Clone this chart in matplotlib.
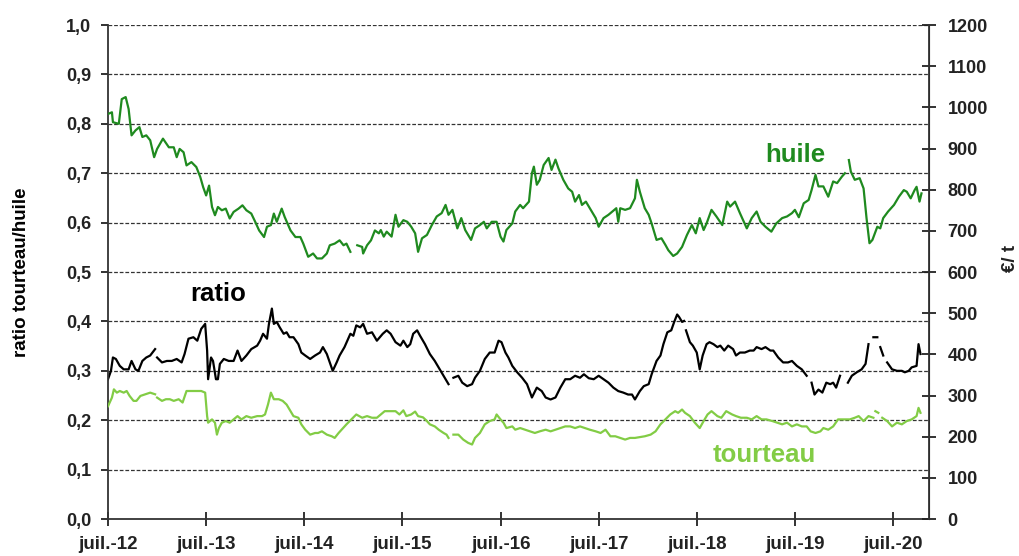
import numpy as np
import matplotlib
matplotlib.use('Agg')
import matplotlib.pyplot as plt

# decimal years; None = gap in the series
huile_t = [2012.50, 2012.54, 2012.55, 2012.61, 2012.64, 2012.68, 2012.71, 2012.74, 2012.78, 2012.82,
           2012.85, 2012.89, 2012.93, 2012.97, 2013.00, 2013.06, 2013.12, 2013.17, 2013.20, 2013.23,
           2013.27, 2013.30, 2013.35, 2013.40, 2013.44, 2013.47, 2013.50, 2013.53, 2013.56, 2013.59,
           2013.62, 2013.66, 2013.70, 2013.74, 2013.78, 2013.83, 2013.87, 2013.91, 2013.96, 2014.00,
           2014.04, 2014.09, 2014.12, 2014.16, 2014.19, 2014.22, 2014.27, 2014.30, 2014.36, 2014.41,
           2014.46, 2014.49, 2014.54, 2014.59, 2014.63, 2014.68, 2014.73, 2014.76, 2014.81, 2014.86,
           2014.90, 2014.93, 2014.97, 2015.00, 2015.04, 2015.09, 2015.10, 2015.14, 2015.18, 2015.22,
           2015.26, 2015.28, 2015.31, 2015.34, 2015.39, 2015.43, 2015.46, 2015.51, 2015.55, 2015.59,
           2015.63, 2015.66, 2015.70, 2015.75, 2015.80, 2015.85, 2015.90, 2015.94, 2015.97, 2016.01,
           2016.06, 2016.10, 2016.14, 2016.20, 2016.24, 2016.29, 2016.33, 2016.36, 2016.41, 2016.46,
           2016.50, 2016.53, 2016.56, 2016.62, 2016.65, 2016.70, 2016.73, 2016.79, 2016.82, 2016.84,
           2016.87, 2016.90, 2016.94, 2016.99, 2017.02, 2017.06, 2017.09, 2017.14, 2017.19, 2017.23,
           2017.26, 2017.30, 2017.33, 2017.37, 2017.41, 2017.47, 2017.50, 2017.55, 2017.60, 2017.64,
           2017.68, 2017.70, 2017.72, 2017.77, 2017.82, 2017.87, 2017.89, 2017.92, 2017.97, 2018.01,
           2018.04, 2018.09, 2018.14, 2018.18, 2018.21, 2018.26, 2018.30, 2018.35, 2018.40, 2018.45,
           2018.49, 2018.53, 2018.57, 2018.60, 2018.65, 2018.70, 2018.76, 2018.81, 2018.84, 2018.89,
           2018.94, 2019.01, 2019.06, 2019.11, 2019.15, 2019.20, 2019.26, 2019.31, 2019.37, 2019.42,
           2019.47, 2019.50, 2019.54, 2019.59, 2019.64, 2019.67, 2019.71, 2019.74, 2019.79, 2019.84,
           2019.89, 2019.93, 2019.98, 2020.01, 2020.03, 2020.05, 2020.07, 2020.11, 2020.16, 2020.20,
           2020.23, 2020.26, 2020.29, 2020.34, 2020.37, 2020.40, 2020.45, 2020.51, 2020.56, 2020.61,
           2020.64, 2020.68, 2020.72, 2020.74, 2020.77, 2020.79]
huile_v = [984, 988, 964, 960, 1020, 1025, 996, 932, 944, 952,
           928, 932, 920, 879, 899, 924, 903, 903, 879, 899,
           891, 859, 867, 855, 831, 806, 786, 810, 758, 738,
           758, 750, 754, 730, 746, 754, 762, 750, 742, 722,
           701, 685, 710, 714, 742, 722, 754, 734, 701, 685,
           685, 669, 637, 645, 633, 633, 645, 665, 669, 677,
           665, 669, 649, None, 665, 661, 645, 665, 677, 701,
           694, 702, 686, 698, 686, 739, 710, 726, 722, 710,
           694, 649, 682, 690, 714, 735, 743, 763, 739, 751,
           706, 731, 702, 678, 706, 714, 722, 706, 722, 722,
           686, 674, 702, 718, 747, 763, 755, 771, 840, 856,
           812, 824, 860, 877, 848, 873, 852, 824, 803, 795,
           771, 787, 763, 771, 755, 731, 710, 731, 739, 747,
           755, 722, 755, 751, 755, 779, 824, 795, 755, 739,
           718, 678, 682, 666, 653, 639, 645, 661, 690, 714,
           694, 731, 702, 718, 751, 735, 714, 771, 759, 771,
           743, 706, 731, 747, 722, 710, 698, 718, 731, 735,
           743, 751, 733, 767, 775, 799, 836, 808, 808, 783,
           820, 816, 832, 840, None, 872, 844, 824, 828, 803,
           731, 670, 678, 710, 706, 731, 747, 763, 783, 799,
           795, 779, 799, 807, 771, 791]

ratio_t = [2012.50, 2012.53, 2012.55, 2012.58, 2012.62, 2012.66, 2012.71, 2012.74, 2012.78, 2012.81,
           2012.85, 2012.89, 2012.93, 2012.98, 2012.99, 2013.00, 2013.05, 2013.10, 2013.15, 2013.20,
           2013.25, 2013.28, 2013.32, 2013.37, 2013.41, 2013.45, 2013.49, 2013.51, 2013.52, 2013.55,
           2013.57, 2013.60, 2013.62, 2013.64, 2013.68, 2013.73, 2013.78, 2013.82, 2013.86, 2013.91,
           2013.96, 2014.02, 2014.05, 2014.08, 2014.12, 2014.14, 2014.17, 2014.19, 2014.22, 2014.25,
           2014.29, 2014.32, 2014.35, 2014.39, 2014.44, 2014.47, 2014.51, 2014.56, 2014.61, 2014.66,
           2014.69, 2014.73, 2014.76, 2014.79, 2014.83, 2014.86, 2014.91, 2014.97, 2015.00, 2015.03,
           2015.07, 2015.10, 2015.14, 2015.19, 2015.24, 2015.30, 2015.34, 2015.38, 2015.43, 2015.48,
           2015.51, 2015.55, 2015.58, 2015.61, 2015.65, 2015.68, 2015.73, 2015.78, 2015.83, 2015.89,
           2015.94, 2015.97, 2015.99, 2016.02, 2016.07, 2016.11, 2016.16, 2016.21, 2016.24, 2016.29,
           2016.34, 2016.39, 2016.44, 2016.48, 2016.51, 2016.55, 2016.58, 2016.62, 2016.67, 2016.72,
           2016.77, 2016.82, 2016.87, 2016.92, 2016.96, 2017.01, 2017.06, 2017.11, 2017.16, 2017.21,
           2017.26, 2017.31, 2017.35, 2017.40, 2017.45, 2017.50, 2017.55, 2017.60, 2017.65, 2017.70,
           2017.75, 2017.80, 2017.84, 2017.87, 2017.92, 2017.96, 2018.01, 2018.04, 2018.09, 2018.13,
           2018.16, 2018.20, 2018.24, 2018.27, 2018.30, 2018.32, 2018.35, 2018.37, 2018.38, 2018.39,
           2018.43, 2018.46, 2018.50, 2018.53, 2018.56, 2018.60, 2018.63, 2018.67, 2018.71, 2018.74,
           2018.78, 2018.82, 2018.87, 2018.90, 2018.94, 2018.99, 2019.04, 2019.08, 2019.11, 2019.16,
           2019.20, 2019.25, 2019.28, 2019.33, 2019.38, 2019.43, 2019.47, 2019.52, 2019.57, 2019.62,
           2019.64, 2019.67, 2019.70, 2019.74, 2019.78, 2019.82, 2019.86, 2019.89, 2019.92, 2019.96,
           2020.00, 2020.04, 2020.08, 2020.13, 2020.18, 2020.22, 2020.25, 2020.28, 2020.30, 2020.34,
           2020.35, 2020.37, 2020.40, 2020.42, 2020.44, 2020.49, 2020.54, 2020.59, 2020.62, 2020.66,
           2020.69, 2020.74, 2020.76, 2020.78]
ratio_v = [0.283, 0.300, 0.327, 0.324, 0.310, 0.303, 0.303, 0.320, 0.303, 0.300,
           0.320, 0.327, 0.331, 0.344, None, 0.327, 0.317, 0.320, 0.320, 0.324,
           0.317, 0.334, 0.365, 0.368, 0.361, 0.385, 0.395, 0.341, 0.283, 0.327,
           0.320, 0.283, 0.283, 0.314, 0.324, 0.320, 0.320, 0.341, 0.320, 0.331,
           0.344, 0.351, 0.361, 0.375, 0.365, 0.395, 0.426, 0.395, 0.399, 0.388,
           0.375, 0.378, 0.368, 0.368, 0.354, 0.337, 0.331, 0.324, 0.331, 0.337,
           0.348, 0.334, 0.317, 0.300, 0.317, 0.331, 0.348, 0.375, 0.371, 0.392,
           0.388, 0.395, 0.375, 0.378, 0.361, 0.375, 0.382, 0.375, 0.358, 0.351,
           0.361, 0.348, 0.354, 0.375, 0.382, 0.371, 0.354, 0.334, 0.320, 0.300,
           0.283, 0.273, None, 0.286, 0.290, 0.276, 0.269, 0.273, 0.286, 0.300,
           0.324, 0.337, 0.337, 0.361, 0.358, 0.337, 0.327, 0.310, 0.297, 0.286,
           0.273, 0.246, 0.266, 0.259, 0.246, 0.242, 0.246, 0.266, 0.283, 0.283,
           0.290, 0.286, 0.293, 0.285, 0.283, 0.290, 0.283, 0.276, 0.266, 0.259,
           0.256, 0.252, 0.252, 0.242, 0.259, 0.269, 0.273, 0.293, 0.320, 0.331,
           0.354, 0.378, 0.382, 0.399, 0.414, 0.409, 0.399, 0.401, None, 0.382,
           0.358, 0.351, 0.337, 0.303, 0.331, 0.354, 0.358, 0.354, 0.348, 0.351,
           0.341, 0.351, 0.344, 0.331, 0.337, 0.337, 0.341, 0.341, 0.348, 0.344,
           0.348, 0.341, 0.341, 0.327, 0.317, 0.317, 0.320, 0.310, 0.303, 0.290,
           None, 0.276, 0.252, 0.262, 0.256, 0.276, 0.273, 0.276, 0.266, 0.290,
           None, 0.276, 0.290, 0.297, 0.303, 0.314, 0.354, None, 0.368, 0.368,
           None, 0.348, 0.331, None, 0.317, 0.303, 0.300, 0.300, 0.297, 0.300,
           0.307, 0.310, 0.354, 0.334]

tourteau_t = [2012.50, 2012.54, 2012.56, 2012.59, 2012.62, 2012.66, 2012.69, 2012.72, 2012.76, 2012.79,
              2012.83, 2012.88, 2012.93, 2012.98, 2012.99, 2013.00, 2013.05, 2013.09, 2013.13, 2013.17,
              2013.22, 2013.26, 2013.30, 2013.35, 2013.40, 2013.45, 2013.49, 2013.51, 2013.52, 2013.56,
              2013.59, 2013.61, 2013.63, 2013.66, 2013.70, 2013.74, 2013.78, 2013.82, 2013.86, 2013.91,
              2013.96, 2014.02, 2014.07, 2014.10, 2014.13, 2014.16, 2014.19, 2014.24, 2014.28, 2014.32,
              2014.35, 2014.39, 2014.44, 2014.47, 2014.51, 2014.56, 2014.61, 2014.64, 2014.68, 2014.73,
              2014.78, 2014.81, 2014.85, 2014.88, 2014.93, 2014.98, 2015.03, 2015.09, 2015.14, 2015.19,
              2015.24, 2015.32, 2015.37, 2015.43, 2015.47, 2015.51, 2015.54, 2015.59, 2015.63, 2015.66,
              2015.71, 2015.75, 2015.78, 2015.83, 2015.87, 2015.92, 2015.95, 2015.97, 2015.99, 2016.02,
              2016.07, 2016.12, 2016.17, 2016.21, 2016.24, 2016.29, 2016.34, 2016.39, 2016.44, 2016.46,
              2016.50, 2016.53, 2016.56, 2016.62, 2016.65, 2016.70, 2016.75, 2016.80, 2016.85, 2016.90,
              2016.96, 2017.01, 2017.06, 2017.11, 2017.16, 2017.21, 2017.26, 2017.31, 2017.36, 2017.41,
              2017.47, 2017.52, 2017.57, 2017.62, 2017.67, 2017.72, 2017.77, 2017.82, 2017.87, 2017.92,
              2017.97, 2018.03, 2018.08, 2018.13, 2018.18, 2018.23, 2018.28, 2018.31, 2018.35, 2018.38,
              2018.43, 2018.48, 2018.53, 2018.57, 2018.61, 2018.65, 2018.71, 2018.75, 2018.80, 2018.86,
              2018.90, 2018.95, 2019.01, 2019.06, 2019.11, 2019.16, 2019.21, 2019.27, 2019.32, 2019.37,
              2019.42, 2019.47, 2019.52, 2019.57, 2019.62, 2019.66, 2019.71, 2019.76, 2019.79, 2019.84,
              2019.89, 2019.94, 2019.99, 2020.06, 2020.11, 2020.15, 2020.20, 2020.25, 2020.30, 2020.31,
              2020.32, 2020.35, 2020.37, 2020.39, 2020.44, 2020.49, 2020.54, 2020.59, 2020.64, 2020.69,
              2020.74, 2020.76, 2020.78]
tourteau_v = [274, 295, 315, 307, 311, 307, 311, 299, 287, 287,
              299, 303, 307, 303, None, 295, 287, 291, 291, 287,
              291, 283, 311, 311, 311, 311, 307, 250, 234, 242,
              234, 205, 221, 234, 238, 234, 242, 250, 242, 250,
              246, 250, 250, 254, 278, 307, 291, 291, 287, 278,
              266, 250, 246, 230, 217, 205, 209, 209, 213, 205,
              201, 197, 209, 217, 230, 242, 254, 246, 250, 246,
              246, 262, 262, 262, 254, 264, 250, 254, 261, 250,
              247, 238, 230, 225, 217, 209, 205, 197, None, 205,
              205, 193, 185, 181, 197, 209, 230, 238, 242, 254,
              242, 234, 221, 225, 217, 221, 217, 213, 209, 213,
              217, 213, 217, 221, 225, 225, 221, 225, 221, 217,
              213, 209, 217, 201, 201, 197, 193, 197, 197, 199,
              201, 205, 213, 230, 242, 254, 262, 258, 266, 258,
              250, 234, 221, 238, 254, 262, 250, 246, 262, 254,
              250, 246, 246, 242, 250, 242, 242, 238, 234, 230,
              234, 225, 230, 225, 225, 213, 209, 213, 221, 217,
              225, 242, 242, 242, 246, 250, 238, 250, 246, None,
              262, 258, None, 246, 238, 225, 234, 230, 238, 242,
              250, 270, 258]

tick_years = [2012, 2013, 2014, 2015, 2016, 2017, 2018, 2019, 2020]
tick_labels = ['juil.-%02d' % (y % 100) for y in tick_years]
left_ticks = np.round(np.arange(0, 1.01, 0.1), 1)
right_ticks = np.arange(0, 1201, 100)

plt.rcParams['font.family'] = ['Liberation Sans', 'DejaVu Sans']
plt.rcParams['font.weight'] = 'bold'

fig = plt.figure(figsize=(10.19, 5.56), dpi=100)
ax = fig.add_axes([0.106, 0.0665, 0.806, 0.8885])
ax2 = ax.twinx()

to_arr = lambda v: np.array([np.nan if x is None else x for x in v], dtype=float)

ax.plot(ratio_t, to_arr(ratio_v), color='black', lw=1.6)
ax2.plot(huile_t, to_arr(huile_v), color='#1f8a1f', lw=1.6)
ax2.plot(tourteau_t, to_arr(tourteau_v), color='#82cc45', lw=1.6)

ax.set_xlim(2012.5, 2020.87)
ax.set_ylim(0, 1.0)
ax2.set_ylim(0, 1200)

ax.set_xticks([y + 0.5 for y in tick_years])
ax.set_xticklabels(tick_labels, fontsize=13.5, fontweight='bold')
ax.set_yticks(left_ticks)
ax.set_yticklabels([('%.1f' % v).replace('.', ',') for v in left_ticks], fontsize=13, fontweight='bold')
ax2.set_yticks(right_ticks)
ax2.set_yticklabels([str(v) for v in right_ticks], fontsize=13, fontweight='bold')

for v in left_ticks[1:]:
    ax.axhline(v, color='#333333', lw=0.9, ls=(0, (3, 1.5)), zorder=0)

ax.spines['top'].set_visible(False)
ax2.spines['top'].set_visible(False)
for s in ['left', 'bottom']:
    ax.spines[s].set_linewidth(1.3)
    ax.spines[s].set_color('#333333')
ax2.spines['right'].set_linewidth(1.3)
ax2.spines['right'].set_color('#333333')
ax2.spines['left'].set_visible(False)
ax2.spines['bottom'].set_visible(False)

ax.tick_params(axis='x', direction='inout', length=10, width=1.3, pad=7, colors='#222222')
ax.tick_params(axis='y', direction='out', length=5, width=1.3, pad=7, colors='#222222')
ax2.tick_params(axis='y', direction='inout', length=10, width=1.3, pad=8, colors='#222222')

ax.set_ylabel('ratio tourteau/huile', fontsize=13.5, fontweight='bold', labelpad=26)
fig.text(0.992, 0.535, '€/ t', rotation=90, ha='center', va='center',
         fontsize=13.5, fontweight='bold', color='#222222')

ax2.text(2019.2, 867, 'huile', color='#1f8a1f', fontsize=18.5, fontweight='bold')
ax2.text(2013.34, 530, 'ratio', color='black', fontsize=18.5, fontweight='bold')
ax2.text(2018.66, 138, 'tourteau', color='#82cc45', fontsize=18.5, fontweight='bold')

fig.savefig('out.png', dpi=100)
